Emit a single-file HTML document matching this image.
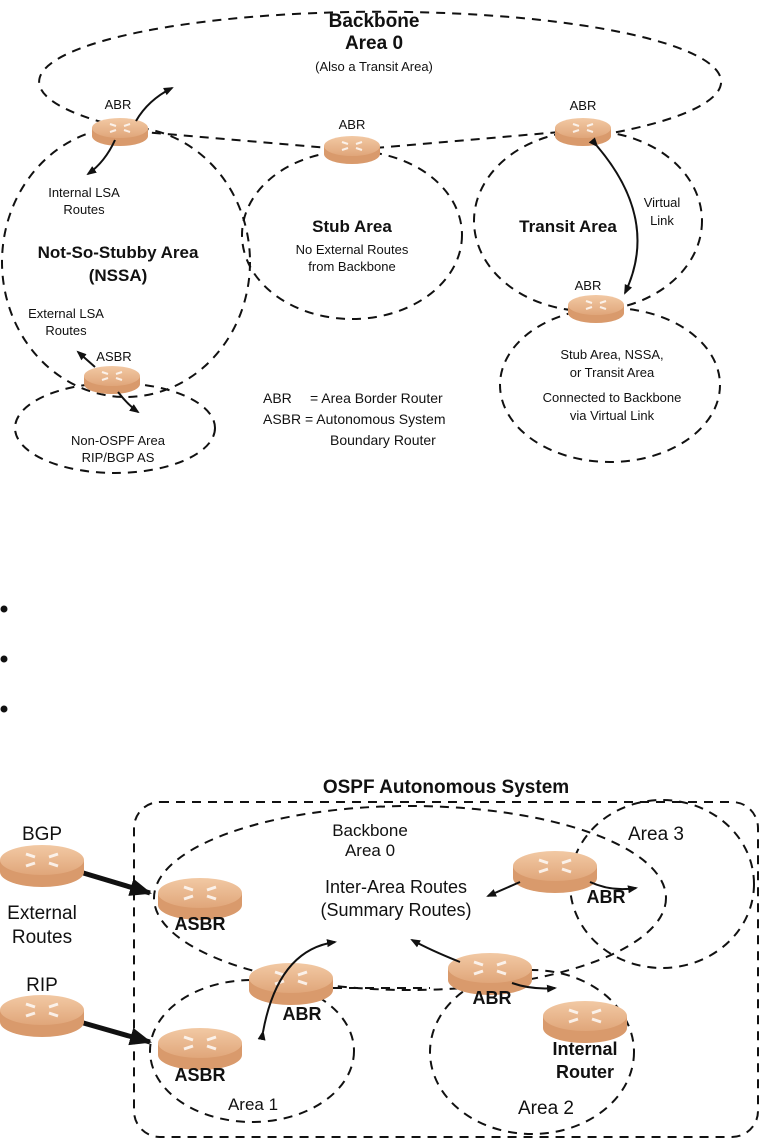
<!DOCTYPE html>
<html><head><meta charset="utf-8"><style>
html,body{margin:0;padding:0;background:#fff}
svg{display:block}
text{font-family:"Liberation Sans",Arial,sans-serif;fill:#111}
.d{fill:none;stroke:#111;stroke-width:2;stroke-dasharray:9 7}
.a{fill:none;stroke:#111;stroke-width:2}
.t{fill:none;stroke:#111;stroke-width:5}
</style></head><body>
<svg width="762" height="1140" viewBox="0 0 762 1140" xmlns="http://www.w3.org/2000/svg">
<defs>
<marker id="ah" markerWidth="10" markerHeight="10" refX="8" refY="5" orient="auto" markerUnits="userSpaceOnUse"><path d="M0,1 L10,5 L0,9 Z" fill="#111"/></marker>
<marker id="ahb" markerWidth="22" markerHeight="18" refX="20" refY="9" orient="auto" markerUnits="userSpaceOnUse"><path d="M0,0 L22,9 L0,18 Z" fill="#111"/></marker>
<linearGradient id="rg" x1="0" x2="0" y1="0" y2="1"><stop offset="0" stop-color="#f2c9a4"/><stop offset="1" stop-color="#e0a67a"/></linearGradient>
<g id="r"><path d="M-28,0 L-28,8 A28,10 0 0 0 28,8 L28,0 Z" fill="#d99a6c"/><ellipse cx="0" cy="0" rx="28" ry="10" fill="url(#rg)"/><path d="M-10,-4 l6,2 M10,-4 l-6,2 M-10,4 l6,-2 M10,4 l-6,-2" stroke="#fff" stroke-width="2" opacity=".8"/></g>
<g id="R"><path d="M-42,0 L-42,12 A42,15 0 0 0 42,12 L42,0 Z" fill="#d99a6c"/><ellipse cx="0" cy="0" rx="42" ry="15" fill="url(#rg)"/><path d="M-16,-6 l9,3 M16,-6 l-9,3 M-16,6 l9,-3 M16,6 l-9,-3" stroke="#fff" stroke-width="3" opacity=".8"/></g>
</defs>

<!-- TOP DIAGRAM -->
<path class="d" d="M120,127 A341,70 0 1 1 583,138 M120,130 L352,150 L583,130"/>
<ellipse class="d" cx="126" cy="262" rx="124" ry="135"/>
<ellipse class="d" cx="352" cy="235" rx="110" ry="84"/>
<ellipse class="d" cx="588" cy="221" rx="114" ry="90"/>
<ellipse class="d" cx="610" cy="385" rx="110" ry="77"/>
<ellipse class="d" cx="115" cy="428" rx="100" ry="45"/>

<use href="#r" x="120" y="128"/>
<use href="#r" x="352" y="146"/>
<use href="#r" x="583" y="128"/>
<use href="#r" x="596" y="305"/>
<use href="#r" x="112" y="376"/>

<path class="a" d="M136,121 Q148,100 172,88" marker-end="url(#ah)"/>
<path class="a" d="M115,140 Q105,162 88,174" marker-end="url(#ah)"/>
<path class="a" d="M597,146 Q660,220 625,293" marker-start="url(#ah)" marker-end="url(#ah)"/>
<path class="a" d="M95,367 L78,352" marker-end="url(#ah)"/>
<path class="a" d="M118,392 Q128,405 138,412" marker-end="url(#ah)"/>

<text x="374" y="27" font-size="19" font-weight="bold" text-anchor="middle">Backbone</text>
<text x="374" y="49" font-size="19" font-weight="bold" text-anchor="middle">Area 0</text>
<text x="374" y="71" font-size="13" text-anchor="middle">(Also a Transit Area)</text>
<text x="118" y="109" font-size="13" text-anchor="middle">ABR</text>
<text x="352" y="129" font-size="13" text-anchor="middle">ABR</text>
<text x="583" y="110" font-size="13" text-anchor="middle">ABR</text>
<text x="588" y="290" font-size="13" text-anchor="middle">ABR</text>
<text x="114" y="361" font-size="13" text-anchor="middle">ASBR</text>
<text x="84" y="197" font-size="13" text-anchor="middle">Internal LSA</text>
<text x="84" y="214" font-size="13" text-anchor="middle">Routes</text>
<text x="118" y="258" font-size="17" font-weight="bold" text-anchor="middle">Not-So-Stubby Area</text>
<text x="118" y="281" font-size="17" font-weight="bold" text-anchor="middle">(NSSA)</text>
<text x="66" y="318" font-size="13" text-anchor="middle">External LSA</text>
<text x="66" y="335" font-size="13" text-anchor="middle">Routes</text>
<text x="118" y="445" font-size="13" text-anchor="middle">Non-OSPF Area</text>
<text x="118" y="462" font-size="13" text-anchor="middle">RIP/BGP AS</text>
<text x="352" y="232" font-size="17" font-weight="bold" text-anchor="middle">Stub Area</text>
<text x="352" y="254" font-size="13" text-anchor="middle">No External Routes</text>
<text x="352" y="271" font-size="13" text-anchor="middle">from Backbone</text>
<text x="568" y="232" font-size="17" font-weight="bold" text-anchor="middle">Transit Area</text>
<text x="662" y="207" font-size="13" text-anchor="middle">Virtual</text>
<text x="662" y="225" font-size="13" text-anchor="middle">Link</text>
<text x="612" y="359" font-size="13" text-anchor="middle">Stub Area, NSSA,</text>
<text x="612" y="377" font-size="13" text-anchor="middle">or Transit  Area</text>
<text x="612" y="402" font-size="13" text-anchor="middle">Connected to Backbone</text>
<text x="612" y="420" font-size="13" text-anchor="middle">via Virtual Link</text>
<text x="263" y="403" font-size="14">ABR</text>
<text x="310" y="403" font-size="14">=  Area Border Router</text>
<text x="263" y="424" font-size="14">ASBR =  Autonomous System</text>
<text x="330" y="445" font-size="14">Boundary Router</text>

<circle cx="4" cy="609" r="3.5" fill="#111"/>
<circle cx="4" cy="659" r="3.5" fill="#111"/>
<circle cx="4" cy="709" r="3.5" fill="#111"/>

<!-- BOTTOM DIAGRAM -->
<text x="446" y="793" font-size="19" font-weight="bold" text-anchor="middle">OSPF Autonomous System</text>
<rect class="d" x="134" y="802" width="624" height="335" rx="26"/>
<ellipse class="d" cx="410" cy="898" rx="256" ry="92"/>
<ellipse class="d" cx="662" cy="884" rx="92" ry="84"/>
<ellipse class="d" cx="252" cy="1051" rx="102" ry="71"/>
<ellipse class="d" cx="532" cy="1052" rx="102" ry="82"/>

<path class="t" d="M80,872 L150,893" marker-end="url(#ahb)"/>
<path class="t" d="M80,1022 L150,1042" marker-end="url(#ahb)"/>

<use href="#R" x="42" y="860"/>
<use href="#R" x="200" y="893"/>
<use href="#R" x="291" y="978"/>
<use href="#R" x="42" y="1010"/>
<use href="#R" x="200" y="1043"/>
<use href="#R" x="555" y="866"/>
<use href="#R" x="490" y="968"/>
<use href="#R" x="585" y="1016"/>

<path class="d" d="M333,988 L430,988"/>
<path class="a" d="M263,1032 Q278,950 335,942" marker-start="url(#ah)" marker-end="url(#ah)"/>
<path class="a" d="M460,962 Q430,950 412,940" marker-end="url(#ah)"/>
<path class="a" d="M520,882 L488,896" marker-end="url(#ah)"/>
<path class="a" d="M590,882 Q612,892 636,888" marker-end="url(#ah)"/>
<path class="a" d="M512,983 Q532,990 555,988" marker-end="url(#ah)"/>

<text x="42" y="840" font-size="19" text-anchor="middle">BGP</text>
<text x="42" y="919" font-size="19" text-anchor="middle">External</text>
<text x="42" y="943" font-size="19" text-anchor="middle">Routes</text>
<text x="42" y="991" font-size="19" text-anchor="middle">RIP</text>
<text x="200" y="930" font-size="18" font-weight="bold" text-anchor="middle">ASBR</text>
<text x="200" y="1081" font-size="18" font-weight="bold" text-anchor="middle">ASBR</text>
<text x="302" y="1020" font-size="18" font-weight="bold" text-anchor="middle">ABR</text>
<text x="492" y="1004" font-size="18" font-weight="bold" text-anchor="middle">ABR</text>
<text x="606" y="903" font-size="18" font-weight="bold" text-anchor="middle">ABR</text>
<text x="370" y="836" font-size="17" text-anchor="middle">Backbone</text>
<text x="370" y="856" font-size="17" text-anchor="middle">Area 0</text>
<text x="396" y="893" font-size="18" text-anchor="middle">Inter-Area Routes</text>
<text x="396" y="916" font-size="18" text-anchor="middle">(Summary Routes)</text>
<text x="656" y="840" font-size="19" text-anchor="middle">Area 3</text>
<text x="253" y="1110" font-size="17" text-anchor="middle">Area 1</text>
<text x="546" y="1114" font-size="19" text-anchor="middle">Area 2</text>
<text x="585" y="1055" font-size="18" font-weight="bold" text-anchor="middle">Internal</text>
<text x="585" y="1078" font-size="18" font-weight="bold" text-anchor="middle">Router</text>
</svg>
</body></html>
